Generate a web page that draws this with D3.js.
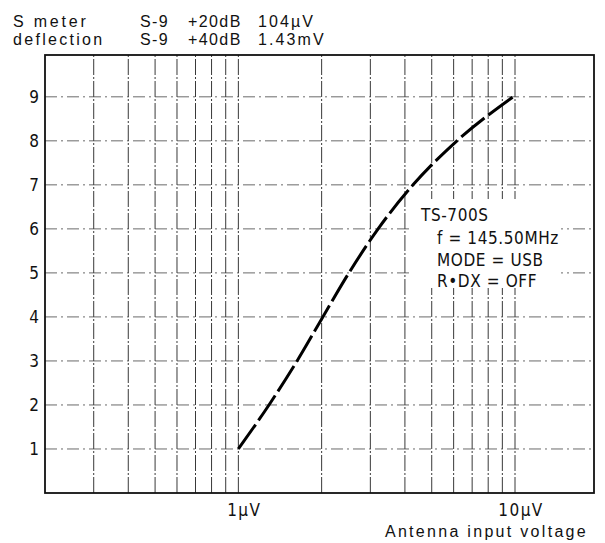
<!DOCTYPE html>
<html>
<head>
<meta charset="utf-8">
<script src="https://cdn.jsdelivr.net/npm/d3@7"></script>
<style>
  body { margin: 0; background: #fff; }
  text { fill: #111; }
</style>
</head>
<body>
<div class="plot"></div>
<script>
const W = 605, H = 543;

// data
const inputVoltage = [1, 1.29, 1.63, 2.02, 2.51, 3.2, 4.28, 6.17, 9.84]; // uV
const sReading = [1, 2, 3, 4, 5, 6, 7, 8, 9];
const xGrid = [0.3, 0.4, 0.5, 0.6, 0.7, 0.8, 0.9, 1, 2, 3, 4, 5, 6, 7, 8, 9, 10];
const yTicks = [1, 2, 3, 4, 5, 6, 7, 8, 9];
const xLabels = [{v: 1, t: "1\u00b5V"}, {v: 10, t: "10\u00b5V"}];
const headerRows = [
  ["S-9", "+20dB", "104\u00b5V"],
  ["S-9", "+40dB", "1.43mV"]
];
const noteLines = ["TS-700S", "f = 145.50MHz", "MODE = USB", "R\u2022DX = OFF"];

const svg = d3.select(".plot")
  .append("svg")
    .attr("width", W)
    .attr("height", H);

// scales
const x = d3.scaleLog().domain([0.2, 19.3]).range([45, 594]);
const y = d3.scaleLinear().domain([0, 9.95]).range([493, 55]);

const narrow = "'Liberation Sans Narrow', 'DejaVu Sans Condensed', sans-serif";
const wide = "'Liberation Sans', Arial, sans-serif";

// grid
svg.append("g").selectAll("line")
  .data(xGrid)
  .enter().append("line")
    .attr("x1", d => x(d)).attr("x2", d => x(d))
    .attr("y1", y.range()[0]).attr("y2", y.range()[1])
    .attr("stroke", "#222")
    .attr("stroke-width", 0.9)
    .attr("stroke-dasharray", "16,2,2,2");

svg.append("g").selectAll("line")
  .data(yTicks)
  .enter().append("line")
    .attr("x1", x.range()[0]).attr("x2", x.range()[1])
    .attr("y1", d => y(d)).attr("y2", d => y(d))
    .attr("stroke", "#444")
    .attr("stroke-width", 0.8)
    .attr("stroke-dasharray", "12,4,2,4");

// white box behind the note, grid stops there
svg.append("rect")
  .attr("x", 413).attr("y", 199)
  .attr("width", 148).attr("height", 89)
  .attr("fill", "#fff");

// frame
svg.append("rect")
  .attr("x", x.range()[0]).attr("y", y.range()[1])
  .attr("width", x.range()[1] - x.range()[0])
  .attr("height", y.range()[0] - y.range()[1])
  .attr("fill", "none")
  .attr("stroke", "#111")
  .attr("stroke-width", 1.8);

// the curve
const line = d3.line()
  .x((d, i) => x(inputVoltage[i]))
  .y(d => y(d))
  .curve(d3.curveMonotoneX);

svg.append("path")
  .datum(sReading)
  .attr("d", line)
  .attr("fill", "none")
  .attr("stroke", "#000")
  .attr("stroke-width", 3)
  .attr("stroke-dasharray", "30,5");

// y tick labels
svg.append("g").selectAll("text")
  .data(yTicks)
  .enter().append("text")
    .attr("x", 39)
    .attr("y", d => y(d))
    .attr("dy", "0.36em")
    .attr("text-anchor", "end")
    .style("font-family", narrow)
    .style("font-size", "17px")
    .text(d => d);

// x labels
svg.append("g").selectAll("text")
  .data(xLabels)
  .enter().append("text")
    .attr("x", d => x(d.v) + 6)
    .attr("y", 516)
    .attr("text-anchor", "middle")
    .style("font-family", narrow)
    .style("font-size", "17px")
    .style("letter-spacing", "1.5px")
    .text(d => d.t);

svg.append("text")
  .attr("x", 588).attr("y", 537)
  .attr("text-anchor", "end")
  .style("font-family", wide)
  .style("font-size", "16px")
  .style("letter-spacing", "2.3px")
  .text("Antenna input voltage");

// header
svg.append("text")
  .attr("x", 13).attr("y", 27)
  .style("font-family", wide)
  .style("font-size", "16px")
  .style("letter-spacing", "2.8px")
  .text("S meter");
svg.append("text")
  .attr("x", 13).attr("y", 45)
  .style("font-family", wide)
  .style("font-size", "16px")
  .style("letter-spacing", "2.3px")
  .text("deflection");

const colX = [140, 188, 258];
headerRows.forEach((row, r) => {
  row.forEach((t, c) => {
    svg.append("text")
      .attr("x", colX[c]).attr("y", 27 + r * 18)
      .style("font-family", wide)
      .style("font-size", "16px")
      .style("letter-spacing", c === 2 ? "2.1px" : "1.4px")
      .text(t);
  });
});

// note
svg.append("g").selectAll("text")
  .data(noteLines)
  .enter().append("text")
    .attr("x", (d, i) => i === 0 ? 421 : 437)
    .attr("y", (d, i) => [221, 244, 266, 287][i])
    .style("font-family", narrow)
    .style("font-size", "17px")
    .style("letter-spacing", "0.6px")
    .text(d => d);
</script>
</body>
</html>
